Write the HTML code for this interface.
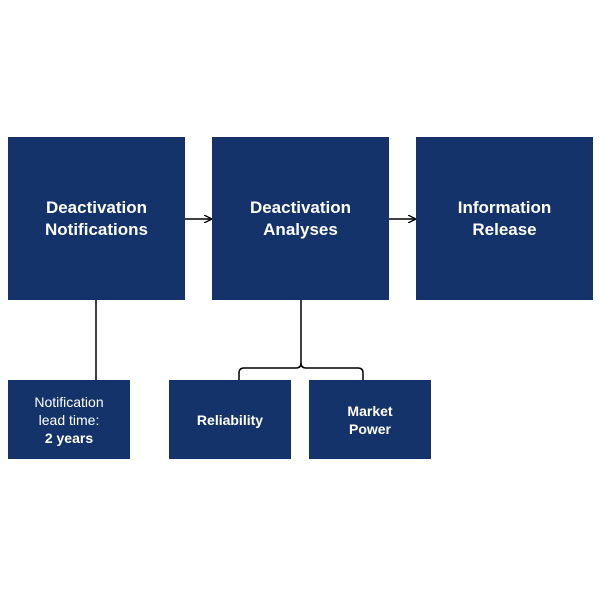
<!DOCTYPE html>
<html><head><style>
body{margin:0;width:600px;height:600px;background:#fff;position:relative;font-family:"Liberation Sans",sans-serif;}
.b{position:absolute;background:#14336b;color:#fff;display:flex;align-items:center;justify-content:center;text-align:center;font-weight:bold;}
.big{font-size:17px;line-height:22px;top:137px;height:163px;width:177px;}
.sm{font-size:14px;line-height:18px;top:380px;height:79px;width:122px;}
</style></head><body>
<svg width="600" height="600" style="position:absolute;left:0;top:0">
<defs><marker id="a" markerWidth="8" markerHeight="8" refX="7" refY="4" orient="auto" markerUnits="userSpaceOnUse"><path d="M0,0 L8,4 L0,8" fill="none" stroke="#000" stroke-width="1.3"/></marker></defs>
<g stroke="#000" stroke-width="1.5" fill="none">
<line x1="185" y1="219" x2="211" y2="219" marker-end="url(#a)"/>
<line x1="389" y1="219" x2="415" y2="219" marker-end="url(#a)"/>
<line x1="96" y1="300" x2="96" y2="380"/>
<path d="M301 300 V363 Q301 368 296 368 H244 Q239 368 239 373 V380"/>
<path d="M301 363 Q301 368 306 368 H358 Q363 368 363 373 V380"/>
</g></svg>
<div class="b big" style="left:8px"><div>Deactivation<br>Notifications</div></div>
<div class="b big" style="left:212px"><div>Deactivation<br>Analyses</div></div>
<div class="b big" style="left:416px"><div>Information<br>Release</div></div>
<div class="b sm" style="left:8px;font-weight:normal"><div>Notification<br>lead time:<br><b>2 years</b></div></div>
<div class="b sm" style="left:169px"><div>Reliability</div></div>
<div class="b sm" style="left:309px"><div>Market<br>Power</div></div>
</body></html>
